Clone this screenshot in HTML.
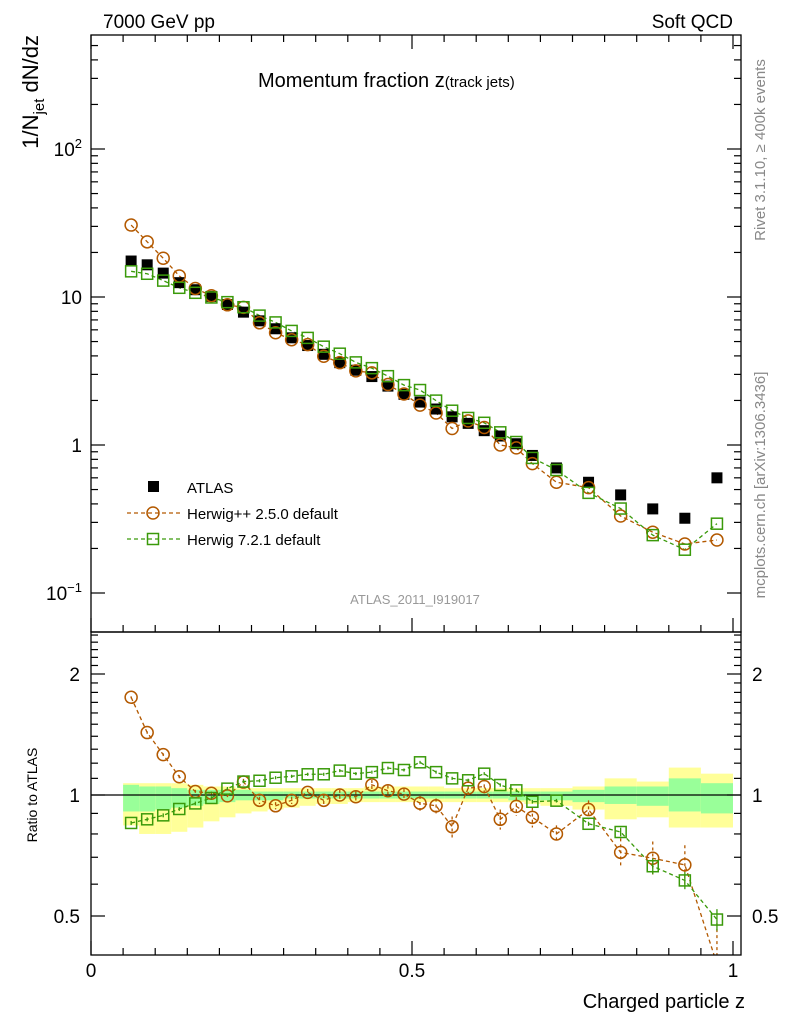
<!DOCTYPE html>
<html><head><meta charset="utf-8"><style>
html,body{margin:0;padding:0;background:#fff;}
svg{display:block;font-family:"Liberation Sans",sans-serif;}
</style></head><body>
<svg id="chart" width="786" height="1024" xmlns="http://www.w3.org/2000/svg">
<rect width="786" height="1024" fill="#fff"/>
<g id="bands"></g>
<g id="grid"></g>
<g id="ticks"></g>
<g id="series"></g>
<rect x="91" y="35" width="650" height="597" fill="none" stroke="#000" stroke-width="1.3"/>
<rect x="91" y="632" width="650" height="323" fill="none" stroke="#000" stroke-width="1.3"/>
<text x="103" y="28" font-size="19">7000 GeV pp</text>
<text x="733" y="28" font-size="19" text-anchor="end">Soft QCD</text>
<text x="258" y="87" font-size="20">Momentum fraction <tspan font-size="20">z</tspan><tspan font-size="15">(track jets)</tspan></text>
<text x="415" y="604" font-size="13" fill="#999" text-anchor="middle">ATLAS_2011_I919017</text>
<text transform="translate(765,150) rotate(-90)" font-size="15" fill="#888" text-anchor="middle">Rivet 3.1.10, ≥ 400k events</text>
<text transform="translate(765,485) rotate(-90)" font-size="15" fill="#888" text-anchor="middle">mcplots.cern.ch [arXiv:1306.3436]</text>
<text transform="translate(38,35) rotate(-90)" font-size="22" text-anchor="end">1/N<tspan font-size="15" dy="6">jet</tspan><tspan dy="-6"> dN/dz</tspan></text>
<text transform="translate(37,795) rotate(-90)" font-size="14" text-anchor="middle">Ratio to ATLAS</text>
<text x="745" y="1008" font-size="20" text-anchor="end">Charged particle z</text>
<g id="legend">
<rect x="148" y="481" width="11" height="11" fill="#000"/>
<text x="187" y="493" font-size="15">ATLAS</text>
<line x1="127" y1="513" x2="180" y2="513" stroke="#b35900" stroke-width="1.3" stroke-dasharray="4,3"/>
<circle cx="153" cy="513" r="6" fill="none" stroke="#b35900" stroke-width="1.5"/>
<text x="187" y="519" font-size="15">Herwig++ 2.5.0 default</text>
<line x1="127" y1="539" x2="180" y2="539" stroke="#3a9a0a" stroke-width="1.3" stroke-dasharray="4,3"/>
<rect x="147.5" y="533.5" width="11" height="11" fill="none" stroke="#3a9a0a" stroke-width="1.5"/>
<text x="187" y="545" font-size="15">Herwig 7.2.1 default</text>
</g>
</svg>
<script>
const binLo = [0.05,0.075,0.1,0.125,0.15,0.175,0.2,0.225,0.25,0.275,0.3,0.325,0.35,0.375,0.4,0.425,0.45,0.475,0.5,0.525,0.55,0.575,0.6,0.625,0.65,0.675,0.7,0.75,0.8,0.85,0.9,0.95];
const binHi = [0.075,0.1,0.125,0.15,0.175,0.2,0.225,0.25,0.275,0.3,0.325,0.35,0.375,0.4,0.425,0.45,0.475,0.5,0.525,0.55,0.575,0.6,0.625,0.65,0.675,0.7,0.75,0.8,0.85,0.9,0.95,1.0];
const atlas = [17.5,16.5,14.5,12.5,11.2,10.1,8.9,7.9,6.9,6.1,5.3,4.7,4.1,3.6,3.2,2.9,2.5,2.2,1.95,1.75,1.55,1.4,1.25,1.15,1.02,0.85,0.70,0.56,0.46,0.37,0.32,0.60];
const ratioHpp = [1.75,1.43,1.26,1.11,1.02,1.01,0.995,1.077,0.97,0.94,0.97,1.015,0.97,1.0,0.99,1.06,1.025,1.005,0.954,0.94,0.834,1.04,1.05,0.87,0.937,0.88,0.80,0.92,0.72,0.696,0.67,0.38];
const errHpp = [0.01,0.01,0.01,0.01,0.01,0.01,0.01,0.02,0.02,0.02,0.02,0.02,0.03,0.03,0.03,0.03,0.03,0.03,0.04,0.04,0.05,0.05,0.05,0.05,0.05,0.05,0.04,0.05,0.06,0.07,0.08,0.1];
const ratioH7 = [0.852,0.87,0.89,0.923,0.953,0.983,1.037,1.08,1.085,1.104,1.113,1.126,1.126,1.15,1.13,1.14,1.167,1.154,1.206,1.14,1.10,1.088,1.13,1.059,1.027,0.962,0.968,0.848,0.809,0.665,0.613,0.49];
const errH7 = [0.01,0.01,0.01,0.01,0.01,0.01,0.01,0.01,0.01,0.01,0.01,0.01,0.01,0.01,0.01,0.01,0.01,0.01,0.01,0.01,0.01,0.01,0.01,0.01,0.01,0.01,0.01,0.01,0.02,0.03,0.03,0.03];
const yellowLow = [.84,.80,.80,.81,.83,.86,.88,.90,.91,.92,.93,.94,.95,.95,.96,.96,.96,.96,.96,.96,.96,.96,.96,.96,.96,.95,.94,.92,.87,.88,.83,.83];
const yellowHigh = [1.07,1.07,1.07,1.07,1.06,1.05,1.05,1.04,1.04,1.04,1.04,1.04,1.04,1.04,1.04,1.05,1.05,1.05,1.05,1.05,1.04,1.04,1.04,1.04,1.04,1.04,1.04,1.05,1.10,1.08,1.17,1.13];
const greenLow = [.91,.91,.92,.93,.94,.95,.96,.97,.97,.97,.98,.98,.98,.98,.98,.98,.98,.98,.98,.98,.98,.98,.98,.98,.97,.97,.97,.96,.95,.94,.91,.90];
const greenHigh = [1.06,1.05,1.05,1.04,1.03,1.03,1.03,1.03,1.02,1.02,1.02,1.02,1.02,1.02,1.02,1.02,1.02,1.02,1.02,1.02,1.02,1.02,1.02,1.02,1.02,1.02,1.02,1.03,1.05,1.05,1.10,1.07];
const xMajor = [0,0.5,1];
const xMajorLabels = ["0","0.5","1"];
const yDecades = [0.1,1,10,100];
const yDecadeLabels = ["10^-1","1","10","10^2"];
const rMajor = [0.5,1,2];
const rMajorLabels = ["0.5","1","2"];

const NS="http://www.w3.org/2000/svg";
const X = z => 91 + z*642;
const Y = v => 297 - 148*(Math.log10(v)-1);
const R = r => 795 - 121*Math.log2(r);
const yTop=35, yMid=632, yBot=955;
function mk(tag, parent, attrs){const e=document.createElementNS(NS,tag);for(const k in attrs)e.setAttribute(k,attrs[k]);document.getElementById(parent).appendChild(e);return e;}

for(let i=0;i<binLo.length;i++){
  const y1=mk('rect','bands',{x:X(binLo[i]),width:X(binHi[i])-X(binLo[i]),y:Math.max(R(yellowHigh[i]),yMid),height:Math.min(R(yellowLow[i]),yBot)-Math.max(R(yellowHigh[i]),yMid),fill:'#ffff99'});
  
  
  const g1=mk('rect','bands',{x:X(binLo[i]),width:X(binHi[i])-X(binLo[i]),y:R(greenHigh[i]),height:R(greenLow[i])-R(greenHigh[i]),fill:'#99ff99'});
  
  
}
const ref=mk('line','bands',{x1:91,x2:741,y1:R(1),y2:R(1),stroke:'#000','stroke-width':1.3});



for(let k=0;k<=20;k++){
  const z=k*0.05, maj=(k%10===0);
  const L=maj?14:7;
  [yMid,yBot].forEach(yb=>{mk('line','ticks',{x1:X(z),x2:X(z),y1:yb,y2:yb-L,stroke:'#000','stroke-width':1.2});});
  mk('line','ticks',{x1:X(z),x2:X(z),y1:yTop,y2:yTop+L,stroke:'#000','stroke-width':1.2});
}
xMajor.forEach((z,i)=>{const t=mk('text','ticks',{x:X(z),y:977,'font-size':19,'text-anchor':'middle'});t.textContent=xMajorLabels[i];

});
yDecades.forEach((d,i)=>{
  [[91,1],[741,-1]].forEach(([x0,s])=>{mk('line','ticks',{x1:x0,x2:x0+s*14,y1:Y(d),y2:Y(d),stroke:'#000','stroke-width':1.2});});
  for(let m=2;m<=9;m++){const v=d*m;const yy=Y(v);if(yy<yTop||yy>yMid)continue;
    [[91,1],[741,-1]].forEach(([x0,s])=>{mk('line','ticks',{x1:x0,x2:x0+s*7,y1:yy,y2:yy,stroke:'#000','stroke-width':1.2});});}
  const lab=yDecadeLabels[i];
  const t=mk('text','ticks',{x:82,y:Y(d)+7,'font-size':19,'text-anchor':'end'});
  
  
  if(lab.includes('^')){const [b,e]=lab.split('^');t.innerHTML=b+'<tspan font-size="13" dy="-8">'+e.replace('-','−')+'</tspan>';}else t.textContent=lab;
});
const rt=[0.5,0.6,0.7,0.8,0.9,1,1.1,1.2,1.3,1.4,1.5,1.6,1.7,1.8,1.9,2,2.1,2.2,2.3,2.4,2.5];
rt.forEach(r=>{const yy=R(r);if(yy<yMid||yy>yBot)return;const maj=rMajor.includes(r);const L=maj?14:7;
  [[91,1],[741,-1]].forEach(([x0,s])=>{mk('line','ticks',{x1:x0,x2:x0+s*L,y1:yy,y2:yy,stroke:'#000','stroke-width':1.2});});});
rMajor.forEach((r,i)=>{
  const t=mk('text','ticks',{x:80,y:R(r)+7,'font-size':19,'text-anchor':'end'});t.textContent=rMajorLabels[i];
  
  
  const t2=mk('text','ticks',{x:752,y:R(r)+7,'font-size':19});t2.textContent=rMajorLabels[i];
  
  
});

const col1='#b35900', col2='#3a9a0a';
const cx=i=>X((binLo[i]+binHi[i])/2);
function line(pts,color,name){
  const p=mk('polyline','series',{points:pts.map(q=>q.join(',')).join(' '),fill:'none',stroke:color,'stroke-width':1.3,'stroke-dasharray':'4,3'});
  
  
}
line(atlas.map((a,i)=>[cx(i),Y(a*ratioHpp[i])]),col1,'herwigpp-line');
line(atlas.map((a,i)=>[cx(i),Y(a*ratioH7[i])]),col2,'herwig7-line');
const clip=mk('clipPath','series',{id:'rclip'});
const cr=document.createElementNS(NS,'rect');cr.setAttribute('x',91);cr.setAttribute('y',yMid);cr.setAttribute('width',650);cr.setAttribute('height',323);clip.appendChild(cr);
const rg=mk('g','series',{'clip-path':'url(#rclip)',id:'rgroup'});


function rline(vals,color,name){const p=mk('polyline','rgroup',{points:vals.map((v,i)=>cx(i)+','+R(v)).join(' '),fill:'none',stroke:color,'stroke-width':1.3,'stroke-dasharray':'4,3'});

}
rline(ratioHpp,col1,'herwigpp-ratio-line');
rline(ratioH7,col2,'herwig7-ratio-line');

for(let i=0;i<atlas.length;i++){
  const x=cx(i);
  const a=mk('rect','series',{x:x-5.5,y:Y(atlas[i])-5.5,width:11,height:11,fill:'#000'});
  
  
  const c=mk('circle','series',{cx:x,cy:Y(atlas[i]*ratioHpp[i]),r:6,fill:'none',stroke:col1,'stroke-width':1.5});
  
  
  const s=mk('rect','series',{x:x-5.5,y:Y(atlas[i]*ratioH7[i])-5.5,width:11,height:11,fill:'none',stroke:col2,'stroke-width':1.5});
  
  
  const e1=mk('line','rgroup',{x1:x,x2:x,y1:R(ratioHpp[i]+errHpp[i]),y2:R(ratioHpp[i]-errHpp[i]),stroke:col1,'stroke-width':1.3,'stroke-dasharray':'3,3'});
  
  
  const c2=mk('circle','rgroup',{cx:x,cy:R(ratioHpp[i]),r:6,fill:'none',stroke:col1,'stroke-width':1.5});
  
  
  const e2=mk('line','rgroup',{x1:x,x2:x,y1:R(ratioH7[i]+errH7[i]),y2:R(ratioH7[i]-errH7[i]),stroke:col2,'stroke-width':1.3});
  
  
  const s2=mk('rect','rgroup',{x:x-5.5,y:R(ratioH7[i])-5.5,width:11,height:11,fill:'none',stroke:col2,'stroke-width':1.5});
  
  
}
</script>
</body></html>
